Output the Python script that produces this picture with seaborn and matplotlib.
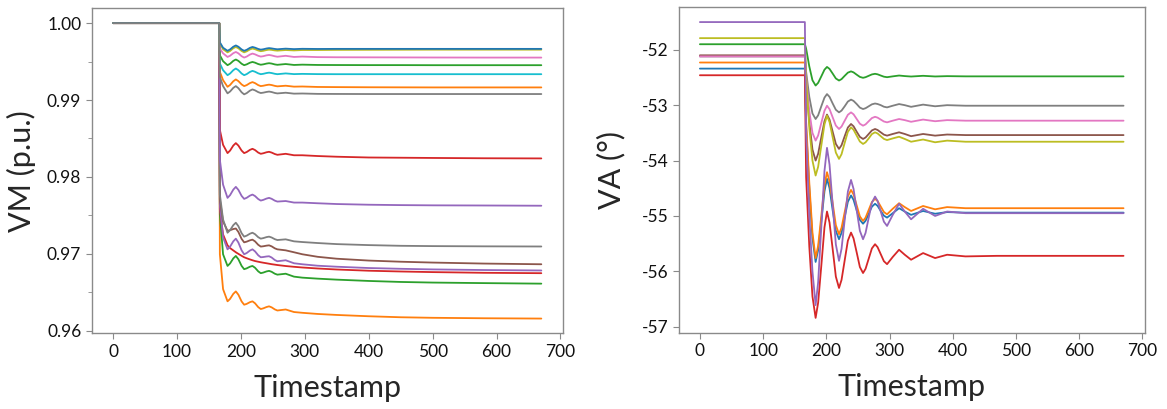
import matplotlib
matplotlib.use("Agg")
import matplotlib.pyplot as plt
import pandas as pd
import seaborn as sns
from matplotlib.ticker import MultipleLocator, FormatStrFormatter

# ---------------- data: left panel (voltage magnitude, p.u.) ----------------
t_vm = [0, 166, 167, 172, 179, 183, 188, 192, 196, 201, 205, 209, 214, 218, 222, 227, 231,
        235, 240, 244, 248, 253, 257, 270, 283, 296, 320, 350, 400, 450, 500, 580, 670]

vm_blue = [1.0, 1.0, 0.99750, 0.99680, 0.99640, 0.99658, 0.99693, 0.99710, 0.99693, 0.99658, 0.99640,
           0.99653, 0.99678, 0.99690, 0.99681, 0.99664, 0.99655, 0.99660, 0.99670, 0.99675, 0.99671,
           0.99664, 0.99660, 0.99668, 0.99662, 0.99666, 0.99664, 0.99665, 0.99665, 0.99665, 0.99665,
           0.99665, 0.99665]
vm_olive = [1.0, 1.0, 0.99740, 0.99660, 0.99620, 0.99638, 0.99673, 0.99690, 0.99673, 0.99638, 0.99620,
            0.99633, 0.99658, 0.99670, 0.99661, 0.99644, 0.99635, 0.99640, 0.99650, 0.99655, 0.99652,
            0.99645, 0.99642, 0.99650, 0.99645, 0.99650, 0.99650, 0.99652, 0.99653, 0.99654, 0.99655,
            0.99655, 0.99655]
vm_pink = [1.0, 1.0, 0.99669, 0.99608, 0.99560, 0.99576, 0.99609, 0.99625, 0.99607, 0.99570, 0.99552,
           0.99565, 0.99591, 0.99604, 0.99594, 0.99575, 0.99565, 0.99570, 0.99581, 0.99586, 0.99580,
           0.99569, 0.99563, 0.99575, 0.99560, 0.99565, 0.99558, 0.99556, 0.99555, 0.99554, 0.99553,
           0.99552, 0.99552]
vm_green = [1.0, 1.0, 0.99582, 0.99505, 0.99453, 0.99472, 0.99509, 0.99527, 0.99509, 0.99472, 0.99453,
            0.99464, 0.99485, 0.99495, 0.99486, 0.99468, 0.99459, 0.99464, 0.99474, 0.99479, 0.99474,
            0.99463, 0.99458, 0.99468, 0.99456, 0.99460, 0.99456, 0.99455, 0.99454, 0.99454, 0.99453,
            0.99453, 0.99453]
vm_cyan = [1.0, 1.0, 0.99475, 0.99388, 0.99323, 0.99345, 0.99388, 0.99410, 0.99388, 0.99345, 0.99323,
           0.99337, 0.99365, 0.99379, 0.99368, 0.99347, 0.99336, 0.99341, 0.99351, 0.99356, 0.99351,
           0.99341, 0.99336, 0.99346, 0.99337, 0.99340, 0.99337, 0.99336, 0.99336, 0.99336, 0.99336,
           0.99336, 0.99336]
vm_orange = [1.0, 1.0, 0.99366, 0.99259, 0.99172, 0.99196, 0.99244, 0.99268, 0.99246, 0.99203, 0.99181,
             0.99194, 0.99220, 0.99233, 0.99220, 0.99194, 0.99181, 0.99186, 0.99195, 0.99200, 0.99195,
             0.99184, 0.99178, 0.99186, 0.99174, 0.99176, 0.99170, 0.99168, 0.99166, 0.99165, 0.99164,
             0.99164, 0.99164]
vm_gray = [1.0, 1.0, 0.99301, 0.99181, 0.99087, 0.99111, 0.99158, 0.99181, 0.99154, 0.99101, 0.99074,
           0.99090, 0.99122, 0.99138, 0.99126, 0.99103, 0.99091, 0.99096, 0.99105, 0.99110, 0.99104,
           0.99092, 0.99086, 0.99095, 0.99083, 0.99085, 0.99080, 0.99079, 0.99078, 0.99078, 0.99078,
           0.99078, 0.99078]
vm_red = [1.0, 1.0, 0.98612, 0.98418, 0.98310, 0.98343, 0.98408, 0.98440, 0.98408, 0.98343, 0.98310,
          0.98324, 0.98352, 0.98366, 0.98350, 0.98317, 0.98301, 0.98308, 0.98321, 0.98327, 0.98317,
          0.98298, 0.98288, 0.98301, 0.98282, 0.98282, 0.98272, 0.98263, 0.98253, 0.98250, 0.98247,
          0.98243, 0.98241]
vm_purple = [1.0, 1.0, 0.98224, 0.97900, 0.97728, 0.97764, 0.97835, 0.97871, 0.97832, 0.97754, 0.97715,
             0.97729, 0.97757, 0.97771, 0.97752, 0.97713, 0.97693, 0.97702, 0.97719, 0.97728, 0.97716,
             0.97692, 0.97680, 0.97687, 0.97667, 0.97667, 0.97658, 0.97648, 0.97639, 0.97634, 0.97631,
             0.97629, 0.97626]
vm_gray2 = [1.0, 1.0, 0.97771, 0.97447, 0.97275, 0.97308, 0.97373, 0.97405, 0.97360, 0.97269, 0.97224,
            0.97237, 0.97262, 0.97275, 0.97256, 0.97217, 0.97198, 0.97205, 0.97218, 0.97224, 0.97213,
            0.97191, 0.97180, 0.97189, 0.97163, 0.97154, 0.97141, 0.97127, 0.97114, 0.97105, 0.97101,
            0.97098, 0.97096]
vm_brown2 = [1.0, 1.0, 0.97706, 0.97422, 0.97300, 0.97308, 0.97323, 0.97330, 0.97285, 0.97195, 0.97150,
             0.97159, 0.97176, 0.97185, 0.97163, 0.97118, 0.97095, 0.97099, 0.97107, 0.97111, 0.97098,
             0.97072, 0.97059, 0.97046, 0.97021, 0.96995, 0.96962, 0.96937, 0.96913, 0.96898, 0.96887,
             0.96874, 0.96865]
vm_purple2 = [1.0, 1.0, 0.97642, 0.97215, 0.97059, 0.97094, 0.97163, 0.97198, 0.97147, 0.97046, 0.96995,
              0.97011, 0.97043, 0.97059, 0.97033, 0.96982, 0.96956, 0.96959, 0.96966, 0.96969, 0.96953,
              0.96920, 0.96904, 0.96917, 0.96878, 0.96865, 0.96846, 0.96833, 0.96816, 0.96806, 0.96798,
              0.96790, 0.96784]
vm_red2 = [1.0, 1.0, 0.97577, 0.97253, 0.97111, 0.97075, 0.97045, 0.97021, 0.97000, 0.96975, 0.96956,
           0.96943, 0.96928, 0.96917, 0.96907, 0.96898, 0.96891, 0.96885, 0.96878, 0.96872, 0.96866,
           0.96860, 0.96855, 0.96842, 0.96832, 0.96823, 0.96810, 0.96797, 0.96781, 0.96771, 0.96763,
           0.96754, 0.96749]
vm_green2 = [1.0, 1.0, 0.97512, 0.96995, 0.96843, 0.96876, 0.96941, 0.96973, 0.96930, 0.96844, 0.96801,
             0.96812, 0.96833, 0.96843, 0.96820, 0.96773, 0.96749, 0.96757, 0.96772, 0.96779, 0.96767,
             0.96742, 0.96730, 0.96742, 0.96704, 0.96691, 0.96678, 0.96665, 0.96648, 0.96635, 0.96627,
             0.96620, 0.96613]
vm_orange2 = [1.0, 1.0, 0.96995, 0.96542, 0.96383, 0.96415, 0.96480, 0.96512, 0.96469, 0.96382, 0.96339,
              0.96350, 0.96372, 0.96383, 0.96358, 0.96308, 0.96283, 0.96292, 0.96309, 0.96318, 0.96305,
              0.96278, 0.96264, 0.96277, 0.96244, 0.96234, 0.96219, 0.96206, 0.96189, 0.96176, 0.96169,
              0.96163, 0.96159]

# ---------------- data: right panel (voltage angle, degrees) ----------------
t_va = [0, 166, 168, 173, 178, 183, 187, 192, 197, 201, 205, 210, 215, 220, 224, 229, 234, 239, 243,
        248, 253, 258, 262, 267, 272, 277, 281, 286, 291, 296, 305, 315, 324, 334, 353, 372, 391,
        420, 470, 550, 670]

va_red = [-52.46, -52.46, -54.30, -55.55, -56.45, -56.84, -56.565, -55.90, -55.207, -54.92, -55.119,
          -55.60, -56.095, -56.30, -56.154, -55.80, -55.446, -55.30, -55.405, -55.66, -55.922, -56.03,
          -55.954, -55.77, -55.586, -55.51, -55.563, -55.69, -55.817, -55.87, -55.74, -55.61, -55.70,
          -55.79, -55.67, -55.76, -55.70, -55.73, -55.72, -55.72, -55.72]
va_purple = [-51.50, -51.50, -53.50, -55.00, -56.00, -56.61, -56.197, -55.20, -54.189, -53.77, -54.072,
             -54.80, -55.514, -55.81, -55.593, -55.07, -54.561, -54.35, -54.511, -54.90, -55.268, -55.42,
             -55.306, -55.03, -54.761, -54.65, -54.729, -54.92, -55.104, -55.18, -54.98, -54.78, -54.92,
             -55.06, -54.87, -55.00, -54.92, -54.95, -54.95, -54.95, -54.95]
va_blue = [-52.34, -52.34, -53.40, -54.50, -55.40, -55.83, -55.616, -55.10, -54.556, -54.33, -54.497,
           -54.90, -55.268, -55.42, -55.303, -55.02, -54.744, -54.63, -54.709, -54.90, -55.070, -55.14,
           -55.087, -54.96, -54.833, -54.78, -54.818, -54.91, -54.995, -55.03, -54.95, -54.86, -54.92,
           -54.98, -54.91, -54.96, -54.93, -54.94, -54.94, -54.94, -54.94]
va_orange = [-52.23, -52.23, -53.30, -54.40, -55.30, -55.76, -55.537, -55.00, -54.441, -54.21, -54.374,
             -54.77, -55.166, -55.33, -55.213, -54.93, -54.647, -54.53, -54.612, -54.81, -55.008, -55.09,
             -55.031, -54.89, -54.749, -54.69, -54.731, -54.83, -54.929, -54.97, -54.87, -54.77, -54.84,
             -54.91, -54.82, -54.88, -54.84, -54.86, -54.86, -54.86, -54.86]
va_green = [-51.90, -51.90, -51.98, -52.30, -52.55, -52.646, -52.597, -52.48, -52.360, -52.31, -52.345,
            -52.43, -52.518, -52.555, -52.530, -52.47, -52.413, -52.39, -52.408, -52.45, -52.490, -52.506,
            -52.495, -52.47, -52.445, -52.434, -52.443, -52.465, -52.486, -52.495, -52.48, -52.465, -52.475,
            -52.483, -52.47, -52.482, -52.476, -52.48, -52.48, -52.48, -52.48]
va_gray = [-52.12, -52.12, -52.40, -52.85, -53.15, -53.25, -53.183, -53.02, -52.864, -52.80, -52.850,
           -52.97, -53.083, -53.13, -53.098, -53.02, -52.935, -52.90, -52.923, -52.98, -53.044, -53.07,
           -53.055, -53.02, -52.985, -52.97, -52.979, -53.00, -53.028, -53.04, -53.01, -52.98, -53.00,
           -53.03, -52.99, -53.02, -53.00, -53.01, -53.01, -53.01, -53.01]
va_pink = [-52.12, -52.12, -52.50, -53.10, -53.50, -53.64, -53.546, -53.32, -53.101, -53.01, -53.072,
           -53.22, -53.368, -53.43, -53.386, -53.28, -53.174, -53.13, -53.165, -53.25, -53.335, -53.37,
           -53.347, -53.29, -53.233, -53.21, -53.225, -53.26, -53.295, -53.31, -53.28, -53.25, -53.27,
           -53.30, -53.26, -53.29, -53.27, -53.28, -53.28, -53.28, -53.28]
va_brown = [-52.10, -52.10, -52.60, -53.30, -53.80, -54.00, -53.877, -53.58, -53.290, -53.17, -53.261,
            -53.48, -53.699, -53.79, -53.723, -53.56, -53.404, -53.34, -53.381, -53.48, -53.572, -53.61,
            -53.584, -53.52, -53.456, -53.43, -53.448, -53.49, -53.532, -53.55, -53.52, -53.49, -53.52,
            -53.56, -53.52, -53.55, -53.53, -53.54, -53.54, -53.54, -53.54]
va_olive = [-51.79, -51.79, -52.50, -53.40, -54.00, -54.27, -54.112, -53.73, -53.348, -53.19, -53.304,
            -53.58, -53.856, -53.97, -53.885, -53.68, -53.482, -53.40, -53.444, -53.55, -53.656, -53.70,
            -53.671, -53.60, -53.522, -53.49, -53.511, -53.56, -53.609, -53.63, -53.60, -53.57, -53.61,
            -53.66, -53.62, -53.67, -53.64, -53.66, -53.66, -53.66, -53.66]

vm_series = {
    "orange2": vm_orange2, "green2": vm_green2, "red2": vm_red2, "purple2": vm_purple2,
    "brown2": vm_brown2, "gray2": vm_gray2, "red": vm_red, "purple": vm_purple,
    "orange": vm_orange, "cyan": vm_cyan, "green": vm_green, "pink": vm_pink,
    "olive": vm_olive, "blue": vm_blue, "gray": vm_gray,
}
va_series = {
    "blue": va_blue, "orange": va_orange, "green": va_green, "red": va_red,
    "gray": va_gray, "brown": va_brown, "pink": va_pink, "olive": va_olive, "purple": va_purple,
}
for _k, _v in vm_series.items():
    assert len(_v) == len(t_vm), ("vm", _k, len(_v))
for _k, _v in va_series.items():
    assert len(_v) == len(t_va), ("va", _k, len(_v))

tab = sns.color_palette("tab10")
base = {"blue": tab[0], "orange": tab[1], "green": tab[2], "red": tab[3], "purple": tab[4],
        "brown": tab[5], "pink": tab[6], "gray": tab[7], "olive": tab[8], "cyan": tab[9]}


def long_frame(t, series):
    rows = []
    for name, vals in series.items():
        for ti, v in zip(t, vals):
            rows.append((name, ti, v))
    return pd.DataFrame(rows, columns=["series", "Timestamp", "value"])


df_vm = long_frame(t_vm, vm_series)
df_va = long_frame(t_va, va_series)

sns.set_style("white")
plt.rcParams["font.family"] = ["Lato", "DejaVu Sans"]

fig = plt.figure(figsize=(11.67, 4.09), dpi=100)
ax1 = fig.add_axes([0.0786, 0.185, 0.4036, 0.7946])
ax2 = fig.add_axes([0.5816, 0.1866, 0.3993, 0.7956])

pal_vm = {k: base[k.rstrip("2")] for k in vm_series}
pal_va = {k: base[k] for k in va_series}

sns.lineplot(data=df_vm, x="Timestamp", y="value", hue="series", hue_order=list(vm_series),
             palette=pal_vm, estimator=None, sort=False, legend=False, lw=1.3, ax=ax1)
sns.lineplot(data=df_va, x="Timestamp", y="value", hue="series", hue_order=list(va_series),
             palette=pal_va, estimator=None, sort=False, legend=False, lw=1.3, ax=ax2)

spine_col = "#8a8a8a"
for ax in (ax1, ax2):
    ax.set_xlim(-33.5, 703.5)
    ax.xaxis.set_major_locator(MultipleLocator(100))
    for s in ax.spines.values():
        s.set_color(spine_col)
        s.set_linewidth(1.0)
    ax.tick_params(axis="both", which="both", direction="out", color=spine_col,
                   labelsize=12.5, labelcolor="#111111", bottom=True, left=True)
    ax.tick_params(which="major", length=4)
    ax.tick_params(which="minor", length=3)
    ax.set_xlabel("Timestamp", fontsize=22)

ax1.set_ylim(0.95967, 1.00192)
ax1.yaxis.set_major_locator(MultipleLocator(0.01))
ax1.yaxis.set_minor_locator(MultipleLocator(0.005))
ax1.yaxis.set_major_formatter(FormatStrFormatter("%.2f"))
ax1.set_ylabel("VM (p.u.)", fontsize=22)

ax2.set_ylim(-57.107, -51.233)
ax2.yaxis.set_major_locator(MultipleLocator(1))
ax2.yaxis.set_major_formatter(FormatStrFormatter("%d"))
ax2.set_ylabel("VA (°)", fontsize=22)

ax1.yaxis.set_label_coords(-0.118, 0.5)
ax2.yaxis.set_label_coords(-0.115, 0.5)
ax1.xaxis.set_label_coords(0.5, -0.125)
ax2.xaxis.set_label_coords(0.5, -0.125)

fig.savefig("out.png", dpi=100)
